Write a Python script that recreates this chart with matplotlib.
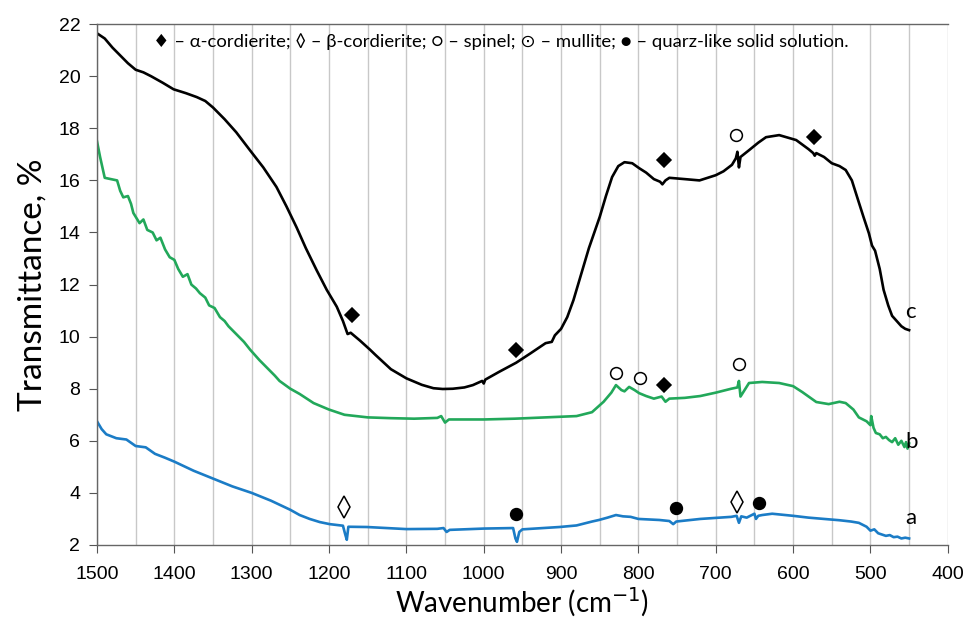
import numpy as np
import matplotlib.pyplot as plt

# -------------------------------------------------
# data (wavenumber, transmittance %)
# -------------------------------------------------
wn_c = [1500, 1490, 1480, 1470, 1460, 1450, 1440, 1430, 1415, 1401, 1385, 1371,
        1360, 1350, 1335, 1320, 1302, 1285, 1268, 1255, 1242, 1230, 1216, 1203,
        1190, 1182, 1176, 1172, 1160, 1147, 1140, 1120, 1100, 1080, 1065, 1053,
        1040, 1025, 1014, 1002, 1000, 998, 980, 958, 940, 920, 912, 908, 900,
        892, 884, 876, 870, 864, 857, 850, 842, 834, 826, 818, 808, 799, 790,
        780, 772, 769, 765, 760, 740, 721, 700, 690, 679, 674, 672, 670, 668,
        657, 645, 635, 618, 596, 580, 574, 572, 570, 560, 550, 540, 532, 524,
        516, 509, 502, 498, 494, 488, 483, 477, 472, 466, 460, 455, 450]
t_c = [21.65, 21.45, 21.1, 20.8, 20.5, 20.25, 20.15, 20.0, 19.75, 19.5, 19.35, 19.2,
       19.05, 18.8, 18.35, 17.85, 17.15, 16.5, 15.75, 15.0, 14.2, 13.4, 12.55, 11.8,
       11.15, 10.6, 10.1, 10.15, 9.85, 9.5, 9.3, 8.75, 8.4, 8.15, 8.02, 7.99,
       8.0, 8.05, 8.14, 8.3, 8.2, 8.35, 8.65, 9.0, 9.35, 9.75, 9.8, 10.05, 10.3,
       10.75, 11.4, 12.2, 12.8, 13.4, 14.0, 14.6, 15.4, 16.13, 16.55, 16.7, 16.66,
       16.47, 16.3, 16.05, 15.95, 15.85, 16.0, 16.1, 16.05, 16.0, 16.2, 16.35,
       16.6, 16.85, 17.1, 16.5, 16.9, 17.16, 17.45, 17.66, 17.74, 17.55, 17.2,
       17.05, 16.95, 17.05, 16.9, 16.66, 16.55, 16.4, 16.0, 15.25, 14.6, 13.97,
       13.5, 13.3, 12.6, 11.8, 11.2, 10.8, 10.6, 10.4, 10.3, 10.25]

wn_b = [1500, 1496, 1490, 1482, 1474, 1470, 1466, 1460, 1456, 1453, 1445, 1440,
        1435, 1428, 1423, 1418, 1412, 1406, 1400, 1395, 1389, 1383, 1378, 1372,
        1367, 1360, 1355, 1348, 1341, 1335, 1330, 1320, 1310, 1302, 1290, 1280,
        1270, 1264, 1250, 1238, 1220, 1200, 1180, 1150, 1120, 1090, 1060, 1055,
        1050, 1045, 1000, 960, 920, 880, 860, 845, 835, 829, 822, 818, 812, 805,
        799, 790, 780, 770, 765, 760, 740, 720, 700, 680, 672, 670, 668, 657,
        640, 618, 600, 588, 570, 554, 540, 532, 522, 515, 505, 500, 499, 496,
        493, 488, 484, 480, 476, 472, 468, 464, 460, 456, 454, 452, 450]
t_b = [17.5, 16.9, 16.1, 16.05, 16.0, 15.6, 15.35, 15.4, 15.1, 14.75, 14.36, 14.5,
       14.1, 14.0, 13.7, 13.8, 13.35, 13.05, 12.95, 12.6, 12.3, 12.4, 12.0, 11.85,
       11.67, 11.5, 11.2, 11.1, 10.75, 10.6, 10.4, 10.1, 9.8, 9.5, 9.1, 8.8,
       8.5, 8.3, 8.0, 7.8, 7.45, 7.2, 7.0, 6.9, 6.87, 6.85, 6.88, 6.95, 6.7, 6.82,
       6.82, 6.85, 6.9, 6.95, 7.1, 7.5, 7.85, 8.14, 7.95, 7.9, 8.07, 7.95, 7.83,
       7.72, 7.62, 7.7, 7.5, 7.62, 7.65, 7.72, 7.85, 8.0, 8.05, 8.3, 7.7, 8.22,
       8.26, 8.22, 8.1, 7.87, 7.49, 7.41, 7.5, 7.45, 7.2, 6.9, 6.75, 6.6, 6.95,
       6.5, 6.3, 6.25, 6.1, 6.15, 6.03, 5.95, 6.1, 5.85, 6.0, 5.76, 5.95, 5.7, 5.9]

wn_a = [1500, 1494, 1488, 1475, 1462, 1450, 1437, 1425, 1412, 1400, 1375, 1350,
        1325, 1300, 1275, 1250, 1238, 1225, 1212, 1199, 1182, 1179, 1177, 1175,
        1151, 1100, 1060, 1052, 1048, 1044, 1000, 962, 959, 957, 954, 950, 902,
        880, 860, 851, 840, 829, 820, 810, 800, 773, 760, 755, 751, 745, 720, 700,
        680, 673, 670, 667, 660, 650, 648, 645, 640, 627, 600, 580, 560, 540,
        525, 515, 505, 500, 495, 490, 485, 480, 475, 470, 465, 460, 455, 450]
t_a = [6.75, 6.45, 6.25, 6.1, 6.05, 5.8, 5.75, 5.5, 5.35, 5.2, 4.85, 4.55,
       4.25, 4.0, 3.7, 3.35, 3.15, 3.0, 2.88, 2.8, 2.74, 2.4, 2.2, 2.7,
       2.69, 2.61, 2.62, 2.65, 2.5, 2.58, 2.63, 2.65, 2.25, 2.12, 2.5, 2.6, 2.69,
       2.75, 2.9, 2.96, 3.05, 3.15, 3.1, 3.08, 3.0, 2.96, 2.92, 2.8, 2.9, 2.92,
       3.0, 3.04, 3.08, 3.12, 2.85, 3.1, 3.05, 3.2, 3.0, 3.12, 3.15, 3.2, 3.12,
       3.05, 3.0, 2.95, 2.9, 2.85, 2.7, 2.55, 2.6, 2.45, 2.4, 2.35, 2.38, 2.3,
       2.32, 2.25, 2.28, 2.25]

# phase markers
alpha_pos = [(1170, 10.83), (958, 9.49), (767, 8.14), (767, 16.78), (573, 17.66)]
spinel_pos = [(674, 17.74), (829, 8.6), (798, 8.41), (670, 8.95)]
beta_pos = [(1180, 3.46), (672, 3.65)]
quarz_pos = [(958, 3.19), (751, 3.42), (644, 3.61)]

legend_text = ("\u2666 \u2013 \u03b1-cordierite; \u25ca \u2013 \u03b2-cordierite; "
               "\u25cb \u2013 spinel; \u2299 \u2013 mullite; \u25cf \u2013 quarz-like solid solution.")

# -------------------------------------------------
# figure
# -------------------------------------------------
fig = plt.figure(figsize=(9.69, 6.2), dpi=100)
ax = fig.add_axes([0.1001, 0.121, 0.878, 0.840])

ax.plot(wn_a, t_a, color="#1b7cc6", lw=1.9)
ax.plot(wn_b, t_b, color="#22a85a", lw=1.9)
ax.plot(wn_c, t_c, color="black", lw=1.9)

def put(pos, marker, face, size):
    xs = [p[0] for p in pos]
    ys = [p[1] for p in pos]
    ax.plot(xs, ys, linestyle="none", marker=marker, markersize=size,
            markerfacecolor=face, markeredgecolor="black", markeredgewidth=1.1)

put(alpha_pos, "D", "black", 7.5)
put(spinel_pos, "o", "white", 8.5)
put(beta_pos, "d", "white", 11)
put(quarz_pos, "o", "black", 8.5)

ax.text(455, 10.95, "c", fontsize=16, family="Lato", va="center", ha="left")
ax.text(455, 5.95, "b", fontsize=16, family="Lato", va="center", ha="left")
ax.text(455, 3.05, "a", fontsize=16, family="Lato", va="center", ha="left")

ax.text(0.4745, 0.966, legend_text, transform=ax.transAxes, ha="center", va="center",
        fontsize=13.3, family=["Lato", "DejaVu Sans"])

ax.set_xlim(1500, 400)
ax.set_ylim(2, 22)
ax.set_xticks(np.arange(1500, 399, -100))
ax.set_xticks(np.arange(1450, 399, -50), minor=True)
ax.set_yticks(np.arange(2, 23, 2))
ax.tick_params(axis="both", which="major", direction="out", length=6,
               labelsize=14, color="#555555")
ax.tick_params(axis="x", which="major", pad=9)
ax.tick_params(axis="y", which="major", pad=6)
ax.tick_params(axis="x", which="minor", length=0)
for lab in ax.get_xticklabels() + ax.get_yticklabels():
    lab.set_family("Liberation Sans")

ax.grid(True, axis="x", which="both", color="#c8c8c8", lw=1.0)
ax.set_axisbelow(True)

for side in ["left", "bottom", "top"]:
    ax.spines[side].set_color("#666666")
    ax.spines[side].set_linewidth(1.0)
ax.spines["right"].set_visible(False)

ax.set_xlabel("Wavenumber (cm$^{-1}$)", fontsize=20, family="Lato", labelpad=2)
ax.set_ylabel("Transmittance, %", fontsize=24, family="Lato")
ax.yaxis.set_label_coords(-0.058, 0.5)

plt.savefig("out.png", dpi=100)
plt.close()
